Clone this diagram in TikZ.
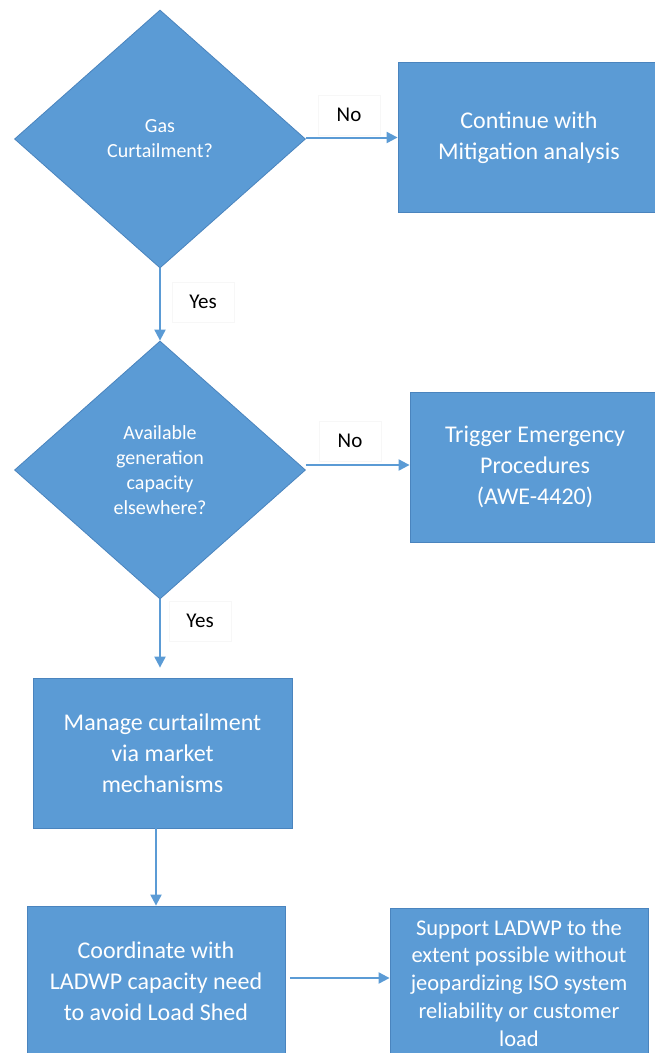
\documentclass[tikz,border=0pt]{standalone}
\usepackage{fontspec}
\setmainfont{Carlito}
\usetikzlibrary{shapes.geometric,arrows.meta}
\definecolor{fillblue}{HTML}{5B9BD5}
\definecolor{edgeblue}{HTML}{4A84BE}
\begin{document}
\begin{tikzpicture}[x=1pt,y=-1pt,
  decision/.style={diamond, fill=fillblue, draw=edgeblue, line width=0.8pt,
    minimum width=291pt, minimum height=258pt, inner sep=0pt, text=white,
    align=center, font=\fontsize{20}{25}\selectfont},
  procbox/.style={rectangle, fill=fillblue, draw=edgeblue, line width=0.8pt,
    minimum width=258pt, minimum height=150pt, inner sep=0pt, text=white,
    align=center, font=\fontsize{24}{31}\selectfont},
  flow/.style={draw=fillblue, line width=2pt, -{Triangle[length=11pt,width=11pt]}},
  lbl/.style={fill=white, draw=black!3, line width=0.6pt, text=black,
    font=\fontsize{21}{25}\selectfont, minimum width=62pt, minimum height=40pt}
]
\useasboundingbox (0,0) rectangle (654,1053);

% decisions
\node[decision] (d1) at (160,139) {Gas\\Curtailment?};
\node[decision] (d2) at (160,470) {Available\\generation\\capacity\\elsewhere?};

% process boxes
\node[procbox, minimum width=262pt] (b1) at (529,137.5) {Continue with\\Mitigation analysis};
\node[procbox, minimum width=250pt] (b2) at (535,467) {Trigger Emergency\\Procedures\\(AWE-4420)};
\node[procbox, minimum width=259pt] (b3) at (162.5,753) {Manage curtailment\\via market\\mechanisms};
\node[procbox] (b4) at (156,981) {Coordinate with\\LADWP capacity need\\to avoid Load Shed};
\node[procbox, font=\fontsize{22.5}{27.8}\selectfont] (b5) at (519,983)
  {Support LADWP to the\\extent possible without\\jeopardizing ISO system\\reliability or customer\\load};

% edge labels
\node[lbl] (no1) at (349,115) {No};
\node[lbl] (yes1) at (203,302) {Yes};
\node[lbl] (no2) at (350,441) {No};
\node[lbl] (yes2) at (200,621) {Yes};

% connectors
\draw[flow] ([yshift=1.5pt]d1.east) -- ([yshift=1.5pt]d1.east -| b1.west);
\draw[flow] (d1.south) -- (d2.north);
\draw[flow] ([yshift=5pt]d2.east) -- ([yshift=5pt]d2.east -| b2.west);
\draw[flow, shorten >=10pt] (d2.south) -- (b3.north -| d2.south);
\draw[flow] (b4.north |- b3.south) -- (b4.north);
\draw[flow, shorten <=5pt] ([yshift=3pt]b4.east) -- ([yshift=3pt]b4.east -| b5.west);
\end{tikzpicture}
\end{document}
